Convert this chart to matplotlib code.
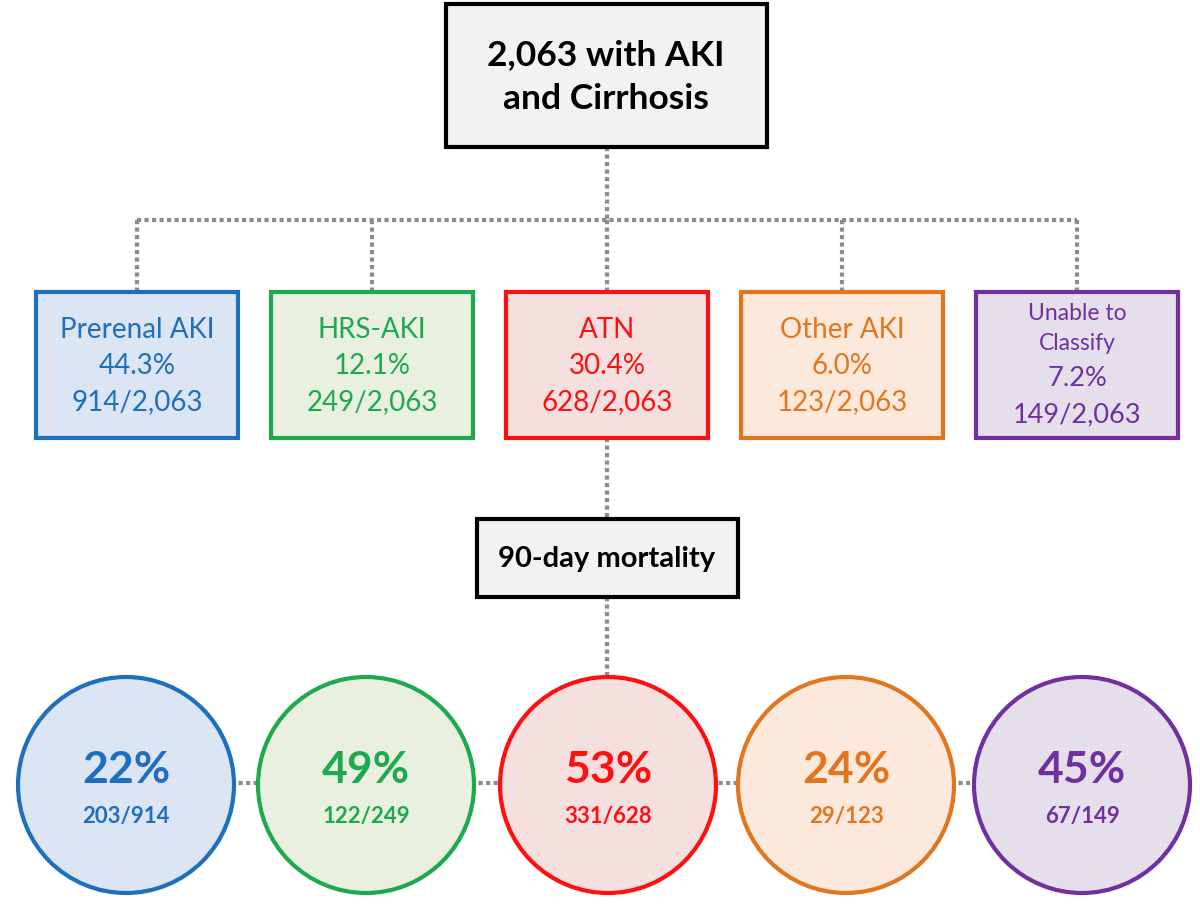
import matplotlib
matplotlib.use("Agg")
import matplotlib.pyplot as plt
from matplotlib.patches import Rectangle, Circle

plt.rcParams['font.family'] = ['Lato', 'DejaVu Sans']

# data
top_label = "2,063 with AKI\nand Cirrhosis"
categories = ["Prerenal AKI", "HRS-AKI", "ATN", "Other AKI", "Unable to\nClassify"]
share_pct = ["44.3%", "12.1%", "30.4%", "6.0%", "7.2%"]
share_frac = ["914/2,063", "249/2,063", "628/2,063", "123/2,063", "149/2,063"]
mort_label = "90-day mortality"
mort_pct = ["22%", "49%", "53%", "24%", "45%"]
mort_frac = ["203/914", "122/249", "331/628", "29/123", "67/149"]

edge_colors = ["#1F6FBF", "#1DAA4E", "#FF1010", "#E2761F", "#7030A0"]
fill_colors = ["#DCE5F3", "#EAF0E0", "#F6DFDF", "#FCE9DC", "#E5DFEC"]

# layout (pixel space)
box_left = [36, 271, 506, 741, 976]
box_w = 202
box_top, box_bot = 292, 438
circ_x = [126, 366, 608, 846, 1082]
circ_y, circ_r = 785, 108
dot_color = "#8C8C8C"
dot_style = dict(color=dot_color, lw=3, linestyle=(0, (1, 0.8)), zorder=1)

fig = plt.figure(figsize=(12, 9.11), dpi=100)
ax = fig.add_axes([0, 0, 1, 1])
ax.set_xlim(0, 1200)
ax.set_ylim(911, 0)
ax.axis("off")

# connectors
ax.plot([607, 607], [147, 220], **dot_style)
ax.plot([box_left[0] + box_w / 2, box_left[-1] + box_w / 2], [220, 220], **dot_style)
for bl in box_left:
    cx = bl + box_w / 2
    ax.plot([cx, cx], [220, box_top], **dot_style)
ax.plot([607, 607], [box_bot, 519], **dot_style)
ax.plot([607, 607], [597, circ_y - circ_r], **dot_style)
ax.plot([circ_x[0], circ_x[-1]], [circ_y - 2, circ_y - 2], **dot_style)

# top box
ax.add_patch(Rectangle((446, 4), 321, 143, facecolor="#F2F2F2", edgecolor="black", lw=3, zorder=2))
ax.text(606, 77, top_label, ha="center", va="center", fontsize=25.5, fontweight="bold",
        linespacing=1.45, zorder=3)

# category boxes
for i, bl in enumerate(box_left):
    ax.add_patch(Rectangle((bl, box_top), box_w, box_bot - box_top, facecolor=fill_colors[i],
                           edgecolor=edge_colors[i], lw=3, zorder=2))
    cx = bl + box_w / 2
    if "\n" in categories[i]:
        l1, l2 = categories[i].split("\n")
        ax.text(cx, 313, l1, ha="center", va="center", fontsize=16.5, color=edge_colors[i], zorder=3)
        ax.text(cx, 344, l2, ha="center", va="center", fontsize=16.5, color=edge_colors[i], zorder=3)
        ax.text(cx, 378, share_pct[i], ha="center", va="center", fontsize=19.5, color=edge_colors[i], zorder=3)
        ax.text(cx, 415, share_frac[i], ha="center", va="center", fontsize=19.5, color=edge_colors[i], zorder=3)
    else:
        ax.text(cx, 330, categories[i], ha="center", va="center", fontsize=20, color=edge_colors[i], zorder=3)
        ax.text(cx, 366, share_pct[i], ha="center", va="center", fontsize=20, color=edge_colors[i], zorder=3)
        ax.text(cx, 402, share_frac[i], ha="center", va="center", fontsize=20, color=edge_colors[i], zorder=3)

# mortality box
ax.add_patch(Rectangle((477, 519), 261, 78, facecolor="#F2F2F2", edgecolor="black", lw=3, zorder=2))
ax.text(607, 559, mort_label, ha="center", va="center", fontsize=21, fontweight="bold", zorder=3)

# circles
for i, cx in enumerate(circ_x):
    ax.add_patch(Circle((cx, circ_y), circ_r, facecolor=fill_colors[i], edgecolor=edge_colors[i],
                        lw=3, zorder=2))
    ax.text(cx, circ_y - 15, mort_pct[i], ha="center", va="center", fontsize=32,
            fontweight="bold", color=edge_colors[i], zorder=3)
    ax.text(cx, circ_y + 31, mort_frac[i], ha="center", va="center", fontsize=16,
            fontweight="bold", color=edge_colors[i], zorder=3)

fig.savefig("out.png", dpi=100)
